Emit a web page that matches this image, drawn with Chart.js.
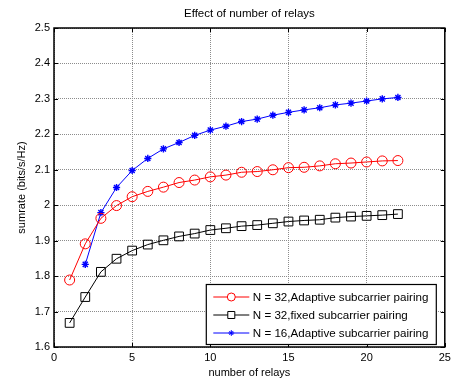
<!DOCTYPE html>
<html>
<head>
<meta charset="utf-8">
<script src="https://cdn.jsdelivr.net/npm/chart.js@4"></script>
<style>
  html, body { margin: 0; padding: 0; background: #fff; }
  #wrap { width: 452px; height: 380px; }
</style>
</head>
<body>
<div id="wrap"><canvas id="chart" width="452" height="380"></canvas></div>
<script>
// Data
const relays = [1, 2, 3, 4, 5, 6, 7, 8, 9, 10, 11, 12, 13, 14, 15, 16, 17, 18, 19, 20, 21, 22];
const adaptive32 = [1.789, 1.891, 1.963, 1.999, 2.024, 2.039, 2.051, 2.064, 2.071, 2.080, 2.085,
                    2.093, 2.095, 2.100, 2.106, 2.107, 2.111, 2.117, 2.119, 2.122, 2.125, 2.126];
const fixed32 = [1.668, 1.741, 1.812, 1.849, 1.872, 1.889, 1.901, 1.912, 1.920, 1.930, 1.935,
                 1.941, 1.944, 1.949, 1.954, 1.957, 1.959, 1.965, 1.968, 1.970, 1.972, 1.975];
// N = 16 curve starts at 2 relays
const adaptive16 = [null, 1.833, 1.979, 2.050, 2.098, 2.132, 2.159, 2.177, 2.197, 2.212, 2.223,
                    2.236, 2.243, 2.254, 2.262, 2.269, 2.275, 2.283, 2.288, 2.294, 2.300, 2.304];
const seriesLabels = ['N = 32,Adaptive subcarrier pairing', 'N = 32,fixed subcarrier pairing', 'N = 16,Adaptive subcarrier pairing'];
const chartTitle = 'Effect of number of relays';

const FONT = 'Liberation Sans, Arial, sans-serif';

function toPoints(values) {
    return relays.map((x, i) => ({ x: x, y: values[i] }));
}

// Frame box, inward ticks, title and legend drawn like matlab does
const matlabFrame = {
    id: 'matlabFrame',
    afterDraw(chart) {
        const ctx = chart.ctx;
        const a = chart.chartArea;
        const xs = chart.scales.x, ys = chart.scales.y;
        ctx.save();
        ctx.strokeStyle = '#000';
        ctx.lineWidth = 1;
        // inward ticks
        ctx.beginPath();
        xs.ticks.forEach(t => {
            const px = Math.round(xs.getPixelForValue(t.value)) + 0.5;
            ctx.moveTo(px, a.bottom); ctx.lineTo(px, a.bottom - 4);
            ctx.moveTo(px, a.top); ctx.lineTo(px, a.top + 4);
        });
        ys.ticks.forEach(t => {
            const py = Math.round(ys.getPixelForValue(t.value)) + 0.5;
            ctx.moveTo(a.left, py); ctx.lineTo(a.left + 4, py);
            ctx.moveTo(a.right, py); ctx.lineTo(a.right - 4, py);
        });
        ctx.stroke();
        ctx.lineWidth = 1.5;
        ctx.strokeRect(a.left, a.top, a.right - a.left, a.bottom - a.top);

        // title centred over the plot area
        ctx.fillStyle = '#000';
        ctx.font = '11.5px ' + FONT;
        ctx.textAlign = 'center';
        ctx.textBaseline = 'middle';
        ctx.fillText(chartTitle, (a.left + a.right) / 2, 14);

        // legend box in lower right corner
        const boxW = 230, boxH = 60;
        const bx = a.right - 8.5 - boxW, by = a.bottom - 2.5 - boxH;
        ctx.fillStyle = '#fff';
        ctx.fillRect(bx, by, boxW, boxH);
        ctx.lineWidth = 1.2;
        ctx.strokeStyle = '#000';
        ctx.strokeRect(bx, by, boxW, boxH);
        ctx.font = '11.6px ' + FONT;
        ctx.textBaseline = 'middle';
        ctx.textAlign = 'left';
        chart.data.datasets.forEach((ds, i) => {
            const ry = by + 12.5 + i * 18;
            ctx.strokeStyle = ds.borderColor;
            ctx.lineWidth = 1;
            ctx.beginPath();
            ctx.moveTo(bx + 7, ry); ctx.lineTo(bx + 43, ry);
            ctx.stroke();
            ctx.fillStyle = ds.label.indexOf('16') >= 0 ? ds.borderColor : '#fff';
            Chart.helpers.drawPoint(ctx, {
                pointStyle: ds.pointStyle, rotation: 0,
                radius: ds.pointRadius * 0.8, borderWidth: 1
            }, bx + 25, ry);
            ctx.fillStyle = '#000';
            ctx.fillText(ds.label, bx + 46.5, ry + 1);
        });
        ctx.restore();
    }
};

const ctx = document.getElementById('chart').getContext('2d');
new Chart(ctx, {
    type: 'line',
    data: {
        datasets: [
            {
                label: seriesLabels[0],
                data: toPoints(adaptive32),
                borderColor: '#ff0000',
                backgroundColor: 'rgba(0,0,0,0)',
                borderWidth: 1,
                pointStyle: 'circle',
                pointRadius: 5,
                pointBorderWidth: 1
            },
            {
                label: seriesLabels[1],
                data: toPoints(fixed32),
                borderColor: '#000000',
                backgroundColor: 'rgba(0,0,0,0)',
                borderWidth: 1,
                pointStyle: 'rect',
                pointRadius: 6.2,
                pointBorderWidth: 1
            },
            {
                label: seriesLabels[2],
                data: toPoints(adaptive16),
                borderColor: '#0000ff',
                backgroundColor: 'rgba(0,0,0,0)',
                borderWidth: 1,
                pointStyle: 'star',
                pointRadius: 3.6,
                pointBorderWidth: 1.4
            }
        ]
    },
    options: {
        responsive: false,
        animation: false,
        layout: { padding: { top: 28, right: 5, left: 0, bottom: 0 } },
        plugins: {
            legend: { display: false },
            tooltip: { enabled: false },
            title: { display: false }
        },
        scales: {
            x: {
                type: 'linear',
                min: 0, max: 25,
                ticks: {
                    stepSize: 5, color: '#000', padding: 4,
                    font: { family: FONT, size: 11 },
                    maxRotation: 0
                },
                grid: { color: '#8c8c8c', drawTicks: false },
                border: { display: false, dash: [1, 1] },
                title: {
                    display: true, text: 'number of relays', color: '#000',
                    font: { family: FONT, size: 11 }, padding: { top: 0, bottom: 0 }
                },
                afterFit(scale) {
                    scale.height = 33;
                    scale.paddingLeft = 0;
                    scale.paddingRight = 0;
                }
            },
            y: {
                min: 1.6, max: 2.5,
                ticks: {
                    stepSize: 0.1, color: '#000', padding: 4,
                    font: { family: FONT, size: 11 },
                    callback: v => String(Number(v.toFixed(1)))
                },
                grid: { color: '#8c8c8c', drawTicks: false },
                border: { display: false, dash: [1, 1] },
                title: {
                    display: true, text: 'sumrate (bits/s/Hz)', color: '#000',
                    font: { family: FONT, size: 11 }, padding: { top: 15, bottom: 0 }
                },
                afterFit(scale) {
                    scale.width = 54;
                    scale.paddingTop = 0;
                    scale.paddingBottom = 0;
                }
            }
        }
    },
    plugins: [matlabFrame]
});
</script>
</body>
</html>
